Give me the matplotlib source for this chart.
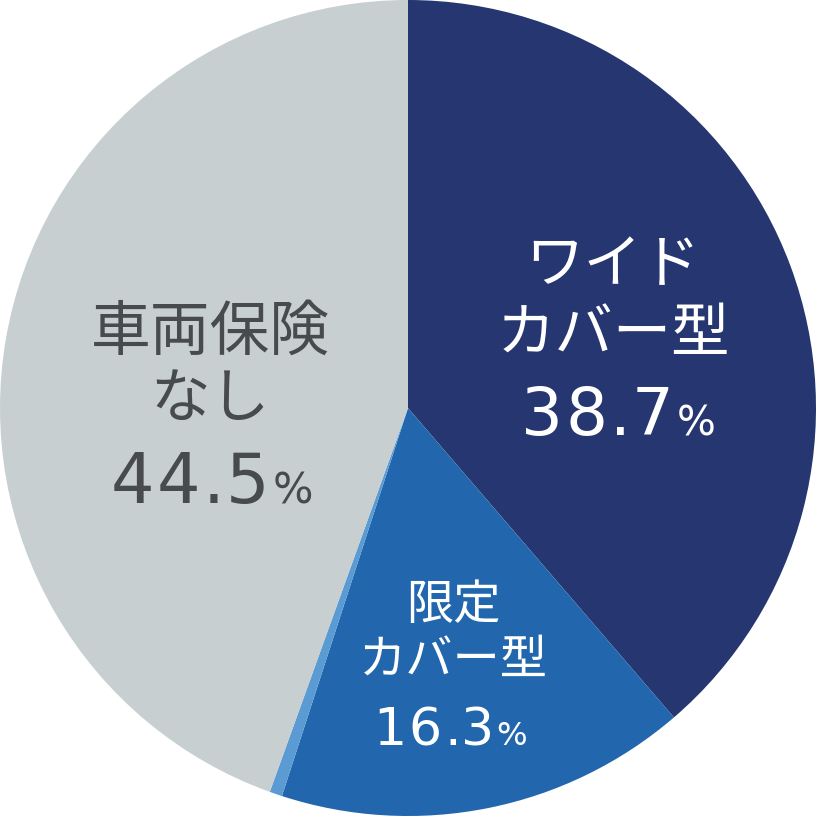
import matplotlib
matplotlib.use("Agg")
import matplotlib.pyplot as plt

plt.rcParams['font.family'] = ['Noto Sans CJK JP', 'DejaVu Sans']

# shares, clockwise from 12 o'clock
labels = ["ワイド\nカバー型", "限定\nカバー型", "", "車両保険\nなし"]
values = [38.7, 16.3, 0.5, 44.5]
colors = ["#253670", "#2267ae", "#5b9bd3", "#c8cfd1"]

W = 816
fig = plt.figure(figsize=(8.16, 8.16), dpi=100)
ax = fig.add_axes([0, 0, 1, 1])
ax.pie(values, colors=colors, startangle=90, counterclock=False,
       radius=W / 2, center=(W / 2, W / 2), wedgeprops=dict(linewidth=0))
ax.set_xlim(0, W)
ax.set_ylim(0, W)
ax.set_aspect("equal")
ax.axis("off")


def number(x0, base, txt, h, c):
    # draw value char by char with wide tracking, h = digit height in px
    fs = h / 0.729 * 0.72
    gaps = {("d", "d"): 0.92, ("d", "."): 0.72, (".", "d"): 0.67, ("d", "%"): 0.9}
    x = x0
    prev = None
    for ch in txt:
        kind = "d" if ch.isdigit() else ch
        if prev is not None:
            x += gaps[(prev, kind)] * h
        size = fs * 0.62 if ch == "%" else fs
        ax.text(x, W - base, ch, ha="center", va="baseline", fontsize=size,
                color=c, family="DejaVu Sans")
        prev = kind


# label placement in pixels: (x center, line centers, cjk size, first digit x, baseline, digit height, color)
layout = {
    0: (613, [266, 334], 42, 542, 435, 48, "white"),
    1: (453, [606, 661], 34, 390, 745, 38, "white"),
    3: (210, [333, 400], 43, 132, 503, 50, "#474b4e"),
}
for i, (cx, ys, fs, x0, base, h, c) in layout.items():
    for line, y in zip(labels[i].split("\n"), ys):
        ax.text(cx, W - y, line, ha="center", va="center", fontsize=fs, color=c)
    number(x0, base, f"{values[i]:.1f}%", h, c)

fig.savefig("out.png", dpi=100)
